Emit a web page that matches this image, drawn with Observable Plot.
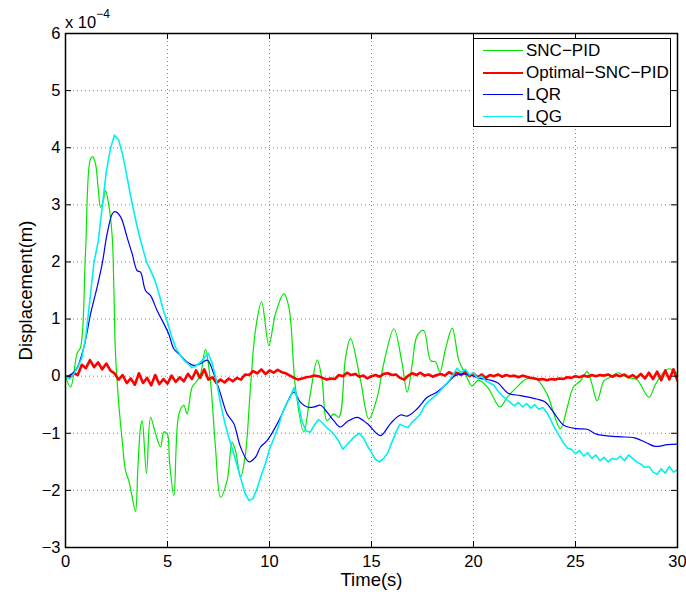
<!DOCTYPE html>
<html><head><meta charset="utf-8">
<script src="https://cdn.jsdelivr.net/npm/d3@7"></script>
<script src="https://cdn.jsdelivr.net/npm/@observablehq/plot@0.6"></script>
<style>
body{margin:0;background:#fff;font-family:"Liberation Sans",Arial,Helvetica,sans-serif;}
#wrap{position:relative;width:686px;height:594px;}
#exp{position:absolute;left:65px;top:10px;font-size:16.5px;color:#000;}
#exp sup{font-size:12px;position:relative;top:-3px;}
#legend{position:absolute;left:473px;top:38px;width:198px;height:89px;border:1px solid #000;background:#fff;box-sizing:border-box;font-size:17px;padding-top:1px;}
.row{position:relative;height:22px;line-height:22px;}
.sw{position:absolute;left:9px;top:11px;width:40px;}
.lab{position:absolute;left:52px;top:0;white-space:nowrap;}
</style></head>
<body>
<div id="wrap"><div id="chart"></div><div id="exp">x 10<sup>−4</sup></div><div id="legend"></div></div>
<script>
// ---- data (displacement in units of 1e-4 m) ----
const xTicks = [0, 5, 10, 15, 20, 25, 30];
const yTicks = [-3, -2, -1, 0, 1, 2, 3, 4, 5, 6];
const seriesNames = ["SNC−PID", "Optimal−SNC−PID", "LQR", "LQG"];
const seriesColors = ["#00e600", "#ff0000", "#0000f0", "#00f0f0"];

// SNC-PID (smooth, irregular samples)
const sncT = [0,0.25,0.57,0.74,0.98,1.23,1.34,1.47,1.6,1.72,1.84,1.96,2.12,2.29,2.37,2.45,2.61,2.78,2.94,3.1,3.27,3.43,3.55,3.68,3.76,3.97,4.17,4.41,4.66,4.82,4.98,5.1,5.31,5.56,5.8,5.96,6.21,6.45,6.62,6.86,7.1,7.35,7.6,7.92,8.17,8.33,8.58,8.82,9.07,9.31,9.61,9.97,10.29,10.7,10.95,11.27,11.68,12.0,12.34,12.58,12.82,13.15,13.4,13.73,13.97,14.46,14.87,15.28,15.6,16.1,16.5,16.75,17.0,17.24,17.56,17.9,18.14,18.35,18.63,18.96,19.28,19.6,19.93,20.25,20.7,21.3,21.65,22.1,22.6,23.1,23.6,24.26,24.6,24.9,25.25,25.57,25.8,26.06,26.4,26.7,27.1,27.5,28.0,28.6,28.9,29.25,29.6,30];
const sncV = [0,-0.19,0.4,0.51,2.15,3.81,3.84,3.72,3.3,2.96,3.05,3.25,3.0,2.44,1.56,0.4,-0.48,-1.13,-1.65,-1.83,-2.12,-2.37,-1.6,-0.89,-0.78,-1.7,-0.72,-1.0,-1.24,-0.98,-1.0,-1.5,-2.09,-0.66,-0.51,-0.66,-0.19,-0.08,0.04,0.47,-0.07,-1.24,-2.12,-1.83,-1.16,-1.3,-1.77,-1.36,-0.19,0.8,1.3,0.54,1.09,1.44,1.21,-0.19,-0.98,-0.31,0.28,-0.07,-0.78,-0.66,-0.72,0.33,0.66,-0.07,-0.75,-0.37,0.22,0.83,0.22,-0.28,0.22,0.71,0.8,0.27,0.25,0.07,0.48,0.84,0.28,0.04,-0.17,-0.07,-0.2,-0.54,-0.37,-0.2,-0.05,-0.06,-0.31,-0.92,-0.54,-0.19,-0.08,0.08,-0.13,-0.43,-0.08,-0.02,0.06,-0.02,-0.06,-0.37,-0.16,0.04,0.13,0.04];

// LQR (smooth, irregular samples)
const lqrT = [0,0.49,0.9,1.23,1.55,1.8,2.04,2.29,2.42,2.7,3.02,3.27,3.51,3.68,3.92,4.17,4.49,4.82,5.06,5.31,5.64,5.96,6.29,6.62,6.95,7.27,7.6,7.92,8.25,8.58,8.99,9.31,9.56,9.88,10.2,10.54,10.87,11.19,11.52,11.85,12.17,12.5,12.82,13.15,13.48,13.8,14.3,14.79,15.44,15.93,16.42,16.75,17.24,17.73,18.2,18.7,19.1,19.5,19.93,20.34,20.83,21.2,21.7,22.3,23.1,23.5,23.9,24.43,25.08,25.57,26.06,27.1,27.9,28.5,28.9,29.5,30];
const lqrV = [-0.02,0.1,0.51,1.09,1.56,1.97,2.49,2.84,2.88,2.79,2.43,2.14,1.85,1.82,1.5,1.41,1.15,0.92,0.74,0.48,0.36,0.25,0.19,0.22,0.28,0.04,-0.31,-0.66,-0.83,-1.24,-1.5,-1.42,-1.24,-1.13,-0.95,-0.72,-0.46,-0.28,-0.46,-0.54,-0.54,-0.51,-0.63,-0.78,-0.89,-0.8,-0.72,-0.83,-1.04,-0.83,-0.68,-0.7,-0.57,-0.37,-0.28,-0.13,0.01,0.04,0.01,-0.04,-0.07,-0.12,-0.3,-0.34,-0.4,-0.45,-0.62,-0.86,-0.92,-0.93,-1.02,-1.06,-1.08,-1.17,-1.23,-1.2,-1.19];

// Noisy series sampled every 0.2 s from t = 0 to 30
const sampleStep = 0.2;
const optV = [0.00,-0.03,0.05,0.02,0.20,0.14,0.28,0.16,0.24,0.12,0.22,0.10,0.05,-0.06,0.02,-0.12,-0.04,-0.15,0.05,-0.12,-0.03,-0.16,0.02,-0.14,-0.05,-0.13,0.01,-0.10,-0.02,-0.09,0.04,-0.05,0.10,-0.03,0.12,-0.06,-0.02,-0.12,-0.06,-0.11,-0.04,-0.09,-0.03,-0.06,0.03,0.02,0.09,0.05,0.12,0.04,0.10,0.06,0.11,0.07,0.05,0.01,-0.03,-0.06,-0.04,-0.02,-0.01,0.01,0.00,-0.03,-0.06,-0.04,-0.05,0.02,0.00,0.06,0.02,0.04,-0.01,0.01,-0.04,0.00,0.02,-0.01,0.04,0.05,0.02,0.03,-0.03,-0.06,0.01,0.05,0.02,0.06,0.01,0.03,-0.01,0.02,0.04,0.01,0.07,0.03,0.06,0.02,0.07,0.00,0.05,-0.02,0.03,-0.03,0.02,0.00,0.03,-0.01,0.02,0.00,0.01,-0.02,0.01,-0.01,-0.03,-0.04,-0.06,-0.05,-0.07,-0.05,-0.06,-0.04,-0.05,-0.02,-0.03,0.00,-0.02,0.01,-0.01,0.02,0.00,0.02,0.01,0.03,-0.01,0.02,0.00,0.03,-0.02,0.02,-0.03,0.04,-0.04,0.06,-0.05,0.08,-0.07,0.10,-0.06,0.12,-0.08];
const lqgV = [0.00,-0.05,0.04,0.15,0.32,0.70,1.35,2.00,2.35,2.96,3.58,3.98,4.22,4.14,3.88,3.52,3.14,2.80,2.48,2.22,1.97,1.83,1.66,1.42,1.15,0.94,0.70,0.50,0.38,0.28,0.22,0.15,0.18,0.24,0.32,0.40,0.22,-0.08,-0.48,-0.80,-1.07,-1.30,-1.55,-1.80,-2.05,-2.18,-2.14,-1.96,-1.73,-1.53,-1.28,-1.10,-0.92,-0.68,-0.50,-0.38,-0.20,-0.44,-0.80,-0.96,-0.98,-0.86,-0.76,-0.82,-0.90,-0.96,-1.04,-1.14,-1.28,-1.20,-1.12,-1.05,-1.00,-1.08,-1.22,-1.34,-1.46,-1.50,-1.44,-1.34,-1.16,-0.98,-0.84,-0.88,-0.90,-0.80,-0.74,-0.66,-0.52,-0.44,-0.38,-0.32,-0.24,-0.16,-0.08,0.03,0.14,0.06,0.12,0.02,0.06,-0.04,0.00,-0.08,-0.12,-0.16,-0.26,-0.34,-0.40,-0.46,-0.52,-0.46,-0.54,-0.48,-0.56,-0.50,-0.58,-0.55,-0.64,-0.78,-0.92,-1.04,-1.16,-1.26,-1.28,-1.36,-1.30,-1.40,-1.34,-1.44,-1.38,-1.48,-1.42,-1.50,-1.44,-1.46,-1.40,-1.48,-1.38,-1.44,-1.50,-1.54,-1.60,-1.58,-1.68,-1.72,-1.62,-1.70,-1.58,-1.68,-1.64];

// ---- build tables ----
const snc = sncT.map((t, i) => ({t, v: sncV[i]}));
const lqr = lqrT.map((t, i) => ({t, v: lqrV[i]}));
const opt = optV.map((v, i) => ({t: +(i * sampleStep).toFixed(2), v}));
const lqg = lqgV.map((v, i) => ({t: +(i * sampleStep).toFixed(2), v}));

const W = 686, H = 594, mL = 65, mR = 9, mT = 33, mB = 47;
const fw = W - mL - mR, fh = H - mT - mB, tk = 6;
const fmt = d => d < 0 ? "−" + (-d) : String(d);

const chart = Plot.plot({
  width: W, height: H,
  marginLeft: mL, marginRight: mR, marginTop: mT, marginBottom: mB,
  style: {fontFamily: '"Liberation Sans", Arial, Helvetica, sans-serif', background: "#fff", color: "#000"},
  x: {domain: [0, 30], axis: null},
  y: {domain: [-3, 6], axis: null},
  marks: [
    Plot.ruleX(xTicks, {x: d => d, stroke: "#888", strokeDasharray: "1,3"}),
    Plot.ruleY(yTicks, {y: d => d, stroke: "#888", strokeDasharray: "1,3"}),
    Plot.line(snc, {x: "t", y: "v", stroke: seriesColors[0], strokeWidth: 1.2, curve: "catmull-rom", clip: true}),
    Plot.line(opt, {x: "t", y: "v", stroke: seriesColors[1], strokeWidth: 2.6, clip: true}),
    Plot.line(lqr, {x: "t", y: "v", stroke: seriesColors[2], strokeWidth: 1.2, curve: "catmull-rom", clip: true}),
    Plot.line(lqg, {x: "t", y: "v", stroke: seriesColors[3], strokeWidth: 1.6, clip: true}),
    Plot.tickX(xTicks, {x: d => d, insetTop: fh - tk, stroke: "#000"}),
    Plot.tickX(xTicks, {x: d => d, insetBottom: fh - tk, stroke: "#000"}),
    Plot.tickY(yTicks, {y: d => d, insetRight: fw - tk, stroke: "#000"}),
    Plot.tickY(yTicks, {y: d => d, insetLeft: fw - tk, stroke: "#000"}),
    Plot.frame({stroke: "#000", strokeWidth: 1.5}),
    Plot.axisX(xTicks, {anchor: "bottom", tickSize: 0, tickPadding: 8, fontSize: 16.5, label: null, tickFormat: fmt}),
    Plot.axisY(yTicks, {anchor: "left", tickSize: 0, tickPadding: 5, fontSize: 16.5, label: null, tickFormat: fmt}),
    Plot.text(["Time(s)"], {frameAnchor: "bottom", dy: 33, lineAnchor: "middle", textAnchor: "middle", fontSize: 18.5, fill: "#000"}),
    Plot.text(["Displacement(m)"], {frameAnchor: "left", dx: -39, rotate: -90, lineAnchor: "middle", textAnchor: "middle", fontSize: 18.5, fill: "#000"})
  ]
});
document.getElementById("chart").appendChild(chart);

// legend
const lg = document.getElementById("legend");
seriesNames.forEach((name, i) => {
  const row = document.createElement("div");
  row.className = "row";
  const sw = document.createElement("div");
  sw.className = "sw";
  const w = i === 1 ? 2.6 : (i === 3 ? 1.6 : 1.2);
  sw.style.borderTop = w + "px solid " + seriesColors[i];
  sw.style.marginTop = (-w / 2) + "px";
  const lab = document.createElement("div");
  lab.className = "lab";
  lab.textContent = name;
  row.appendChild(sw); row.appendChild(lab);
  lg.appendChild(row);
});
</script>
</body></html>
